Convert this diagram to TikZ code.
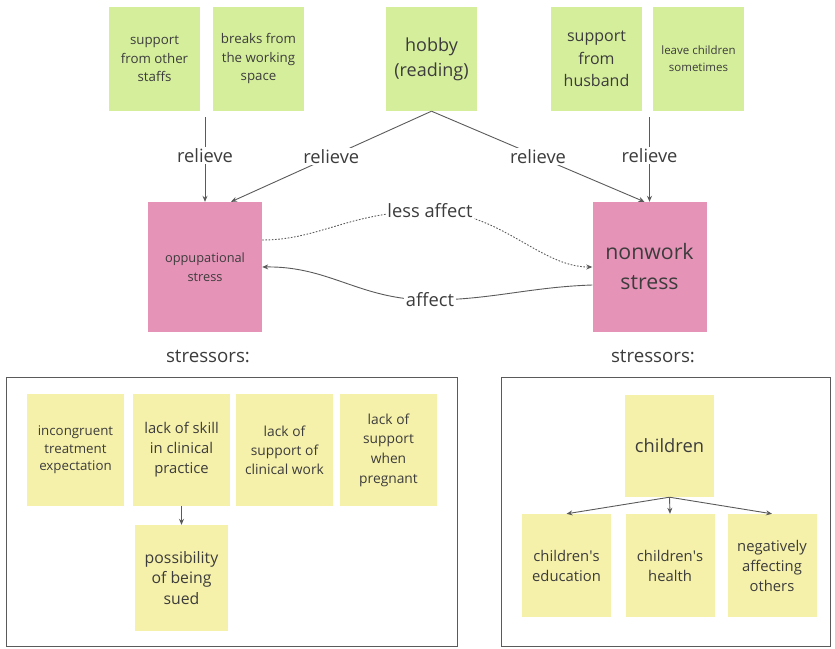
\documentclass[tikz,border=0pt]{standalone}
\usepackage{fontspec}
\setmainfont{Open Sans}
\usetikzlibrary{arrows.meta,calc}
\definecolor{gn}{HTML}{D5EE9C}
\definecolor{pk}{HTML}{E693B8}
\definecolor{yl}{HTML}{F6F1AA}
\definecolor{tx}{HTML}{3C3C3C}
\definecolor{ln}{HTML}{5A5A5A}
\newcommand\fsz[2]{\fontsize{#1}{#2}\selectfont}
\begin{document}
\begin{tikzpicture}[x=1pt,y=-1pt,
  gnote/.style={fill=gn, inner sep=0pt, align=center, text=tx, minimum width=91pt, minimum height=104pt},
  pnote/.style={fill=pk, inner sep=0pt, align=center, text=tx, minimum width=114pt, minimum height=130pt},
  ynote/.style={fill=yl, inner sep=0pt, align=center, text=tx},
  lbl/.style={fill=white, inner sep=1.5pt, text=tx, font=\fsz{18.3}{20}},
  arr/.style={draw=ln, line width=0.9pt, -{Stealth[length=6pt,width=5pt]}},
  dotarr/.style={draw=ln, line width=0.9pt, dash pattern=on 1.6pt off 1.6pt, -{Stealth[length=6pt,width=5pt]}},
  frame/.style={draw=ln, line width=1pt}]
\useasboundingbox (0,0) rectangle (835,648);

% top green notes
\node[gnote,font=\fsz{13.3}{18.5}] (s1) at (154.5,59) {support\\from other\\staffs};
\node[gnote,font=\fsz{13.3}{18.5}] (s2) at (258.5,59) {breaks from\\the working\\space};
\node[gnote,font=\fsz{18}{25}] (hb) at (431.5,59) {hobby\\(reading)};
\node[gnote,font=\fsz{16}{22.5}] (sh) at (596.5,59) {support\\from\\husband};
\node[gnote,font=\fsz{11.5}{17}] (lc) at (698.5,59) {leave children\\sometimes};

% stress boxes
\node[pnote,font=\fsz{12.8}{18.5}] (op) at (205,267) {oppupational\\stress};
\node[pnote,font=\fsz{21.3}{30}] (nw) at (649.5,267) {nonwork\\stress};

\node[text=tx,font=\fsz{18.7}{20}] (st1) at (208,356) {stressors:};
\node[text=tx,font=\fsz{18.7}{20}] (st2) at (653,356) {stressors:};

% group end points
\coordinate (g1) at (205,117);
\coordinate (g2) at (649.5,117);

% relieve arrows
\draw[arr] (g1) -- node[lbl,pos=0.45] {relieve} (op.north);
\draw[arr] (g2) -- node[lbl,pos=0.45] {relieve} (nw.north);
\draw[arr] (hb.south) -- node[lbl] {relieve} ([xshift=26pt]op.north);
\draw[arr] (hb.south) -- node[lbl] {relieve} ([xshift=-5pt]nw.north);

% affect arrows
\draw[dotarr] ([yshift=27pt]op.east) .. controls (320,240) and (350,211) .. (430,211)
  node[lbl] {less affect}
  .. controls (500,211) and (540,267) .. (nw.west);
\draw[arr] ([yshift=-18pt]nw.west) .. controls (530,287) and (490,300) .. (430,300)
  node[lbl] {affect}
  .. controls (360,300) and (330,266) .. (op.east);

% frames
\draw[frame] (6,377) rectangle (457,646.5);
\draw[frame] (501,377) rectangle (830,646.5);

% bottom left notes
\node[ynote,minimum width=97pt,minimum height=112pt,font=\fsz{13.3}{17.5}] (b1) at (75.5,450) {incongruent\\treatment\\expectation};
\node[ynote,minimum width=97pt,minimum height=112pt,font=\fsz{14.8}{20}] (b2) at (181.5,450) {lack of skill\\in clinical\\practice};
\node[ynote,minimum width=97pt,minimum height=112pt,font=\fsz{13.8}{19}] (b3) at (284.5,450) {lack of\\support of\\clinical work};
\node[ynote,minimum width=97pt,minimum height=112pt,font=\fsz{13.8}{19.7}] (b4) at (388.5,450) {lack of\\support\\when\\pregnant};
\node[ynote,minimum width=93pt,minimum height=106pt,font=\fsz{15.8}{20.5}] (b5) at (181.5,578) {possibility\\of being\\sued};
\draw[arr] (b2.south) -- (b5.north);

% bottom right notes
\node[ynote,minimum width=89pt,minimum height=102pt,font=\fsz{18.3}{24}] (c0) at (669.5,446) {children};
\node[ynote,minimum width=89pt,minimum height=103pt,font=\fsz{14.8}{20}] (c1) at (566.5,565.5) {children\textquotesingle s\\education};
\node[ynote,minimum width=89pt,minimum height=103pt,font=\fsz{14.8}{20}] (c2) at (670,565.5) {children\textquotesingle s\\health};
\node[ynote,minimum width=89pt,minimum height=103pt,font=\fsz{14.8}{20}] (c3) at (772,565.5) {negatively\\affecting\\others};
\draw[arr] (c0.south) -- (c1.north);
\draw[arr] (c0.south) -- (c2.north);
\draw[arr] (c0.south) -- (c3.north);
\end{tikzpicture}
\end{document}
